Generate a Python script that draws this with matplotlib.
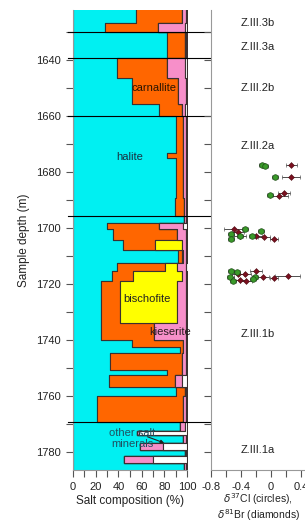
import numpy as np
import matplotlib
matplotlib.use("Agg")
import matplotlib.pyplot as plt

plt.rcParams['font.family'] = ['Liberation Sans', 'DejaVu Sans']

# ---------------- data ----------------
# salt composition intervals (top depth, m) and mineral percentages
depth_top = [1621.5, 1627.0, 1630.3, 1639.6, 1646.7, 1655.7, 1660.0, 1673.4, 1675.2,
             1689.4, 1696.0, 1698.3, 1700.5, 1704.3, 1708.0, 1712.6, 1715.5, 1719.2,
             1734.0, 1740.0, 1742.7, 1744.8, 1750.7, 1752.5, 1756.8, 1760.2, 1769.2,
             1772.7, 1774.0, 1776.8, 1779.3, 1781.6, 1784.0]
depth_bottom = 1787.0
halite =     [55, 28, 82, 38.5, 51.5, 75.5, 90, 82, 90, 89, 97, 30, 35.5, 44, 91.5, 38.4, 34, 25,
              25, 52, 93.5, 33, 82, 32, 90, 21, 93.5, 56, 96.4, 58.7, 97.8, 45, 97]
carnallite = [40.5, 46, 16, 43.5, 40.5, 20, 6, 14, 6, 8, 0, 45.5, 55, 28, 3.5, 42, 19, 16,
              46, 44, 3, 62.5, 13, 57, 8, 75, 0, 0, 0, 0, 0, 0, 0]
bischofite = [0, 0, 0, 0, 0, 0, 0, 0, 0, 0, 0, 0, 0, 23, 1.5, 10.2, 42, 49.6,
              0, 0, 0, 0, 0, 0, 0, 0, 0, 0, 0, 0, 0, 0, 0]
kieserite =  [3.5, 24, 1, 16, 6.5, 2.5, 2.5, 2.5, 2.5, 1.5, 1.5, 21, 8, 3.5, 2, 7.9, 3.5, 7.9,
              27.5, 2.5, 2, 3, 3.5, 6.5, 1, 2.5, 4, 2, 2.5, 20.3, 1.2, 25, 2]
other = [100 - h - c - b - k for h, c, b, k in zip(halite, carnallite, bischofite, kieserite)]

zone_bounds = [1630.3, 1639.6, 1660.0, 1696.0, 1769.2]
zone_names = ["Z.III.3b", "Z.III.3a", "Z.III.2b", "Z.III.2a", "Z.III.1b", "Z.III.1a"]
zone_label_depth = [1627.0, 1635.4, 1650.2, 1670.9, 1738.0, 1779.3]

# isotope data
cl_depth = [1677.6, 1678.0, 1681.8, 1688.2, 1700.5, 1701.1, 1702.3, 1702.9, 1703.0, 1704.1,
            1715.4, 1717.6, 1717.6, 1718.3, 1718.9, 1716.0]
cl_value = [-0.12, -0.08, 0.05, -0.02, -0.35, -0.13, -0.53, -0.26, -0.41, -0.53,
            -0.53, -0.54, -0.22, -0.24, -0.51, -0.45]
cl_err = [0.04] * len(cl_value)

br_depth = [1677.8, 1681.8, 1687.6, 1688.6, 1700.5, 1701.7, 1702.9, 1702.9, 1703.3, 1704.1,
            1715.4, 1716.7, 1716.4, 1717.6, 1718.1, 1717.2, 1718.5, 1718.9]
br_value = [0.27, 0.27, 0.17, 0.11, -0.50, -0.44, -0.41, -0.20, -0.09, 0.04,
            -0.20, -0.44, -0.35, -0.11, 0.04, 0.22, -0.41, -0.33]
br_err = [0.07, 0.12, 0.08, 0.12, 0.13, 0.08, 0.08, 0.08, 0.08, 0.05,
          0.08, 0.08, 0.08, 0.08, 0.05, 0.17, 0.08, 0.08]

colors = ["#00F0F2", "#FF6600", "#FFFF00", "#F78FC9", "#FFFFFF"]
edge = "#3a3030"

# ---------------- figure ----------------
W, H = 305, 524
fig = plt.figure(figsize=(W / 100, H / 100), dpi=100)

def frac(x0, y0, x1, y1):
    return [x0 / W, 1 - y1 / H, (x1 - x0) / W, (y1 - y0) / H]

ax = fig.add_axes(frac(72.5, 10, 187.5, 470))
ax2 = fig.add_axes(frac(211, 10, 316, 470))

ylo, yhi = 1786.5, 1622.3

# stacked step fills
yy = np.array(depth_top + [depth_bottom])
comps = [halite, carnallite, bischofite, kieserite, other]
left = np.zeros(len(depth_top))
for comp, col in zip(comps, colors):
    c = np.array(comp, dtype=float)
    right = left + c
    x1 = np.append(left, left[-1])
    x2 = np.append(right, right[-1])
    ax.fill_betweenx(yy, x1, x2, step='post', facecolor=col, edgecolor=edge, linewidth=0.8)
    left = right

ax.set_xlim(0, 100)
ax.set_ylim(ylo, yhi)
ax.set_xticks(np.arange(0, 101, 10))
ax.set_xticklabels([str(v) if v % 20 == 0 else "" for v in range(0, 101, 10)])
yt = np.arange(1630, 1790, 10)
ax.set_yticks(yt)
ax.set_yticklabels([str(v) if v % 20 == 0 else "" for v in yt])
for s in ["top", "right"]:
    ax.spines[s].set_visible(False)
for s in ["left", "bottom"]:
    ax.spines[s].set_color("#999999")
ax.tick_params(axis='both', colors="#555555", labelcolor="#222222", labelsize=8, length=5, width=0.8)
ax.set_xlabel("Salt composition (%)", fontsize=8.5, labelpad=2, color="#222222")
ax.set_ylabel("Sample depth (m)", fontsize=8.5, color="#222222", labelpad=4)

ax.text(71, 1650.3, "carnallite", fontsize=8, ha='center', va='center', color="#2a1500")
ax.text(50, 1674.8, "halite", fontsize=8, ha='center', va='center', color="#1a3040")
ax.text(65, 1725.6, "bischofite", fontsize=8, ha='center', va='center', color="#222222")
ax.text(85, 1737.3, "kieserite", fontsize=8, ha='center', va='center', color="#2a1a20")
ax.text(52, 1775.3, "other salt\nminerals", fontsize=8, ha='center', va='center',
        color="#1f5060", linespacing=1.1)
ax.annotate("", xy=(82, 1777.2), xytext=(63, 1774.3),
            arrowprops=dict(arrowstyle="-|>", color="#222222", lw=0.8, mutation_scale=5))

# right panel
ax2.errorbar(br_value, br_depth, xerr=br_err, fmt='D', ms=3, mfc="#7a1020", mec="#4a0a10",
             ecolor="#333333", elinewidth=0.6, capsize=1.5, capthick=0.6, mew=0.4, zorder=3)
ax2.errorbar(cl_value, cl_depth, xerr=cl_err, fmt='o', ms=4, mfc="#3a9a2a", mec="#1a4a12",
             ecolor="#333333", elinewidth=0.6, capsize=1.5, capthick=0.6, mew=0.5, zorder=4)
ax2.set_xlim(-0.8, 0.6)
ax2.set_ylim(ylo, yhi)
ax2.set_xticks(np.arange(-0.8, 0.61, 0.2))
ax2.set_xticklabels(["-0.8", "", "-0.4", "", "0", "", "0.4", ""])
ax2.set_yticks(yt)
ax2.set_yticklabels([])
for s in ["top", "right"]:
    ax2.spines[s].set_visible(False)
for s in ["left", "bottom"]:
    ax2.spines[s].set_color("#999999")
ax2.tick_params(axis='both', colors="#555555", labelcolor="#222222", labelsize=8, length=5, width=0.8)

# two-line x label, placed in axes fraction coordinates
ax2.text(0.45, -0.064, "$\\delta^{37}$Cl (circles),", transform=ax2.transAxes, fontsize=7.5,
         ha='center', va='center', color="#222222")
ax2.text(0.45, -0.099, "$\\delta^{81}$Br (diamonds)", transform=ax2.transAxes, fontsize=7.5,
         ha='center', va='center', color="#222222")

for name, d in zip(zone_names, zone_label_depth):
    ax2.text(-0.173, d, name, fontsize=8, ha='center', va='center', color="#222222")

# zone boundary lines across both panels
for d in zone_bounds:
    ax.plot([-0.04, 2.1], [d, d], transform=ax.get_yaxis_transform(), color="black",
            lw=0.8, clip_on=False, zorder=5)

fig.savefig("out.png", dpi=100)
